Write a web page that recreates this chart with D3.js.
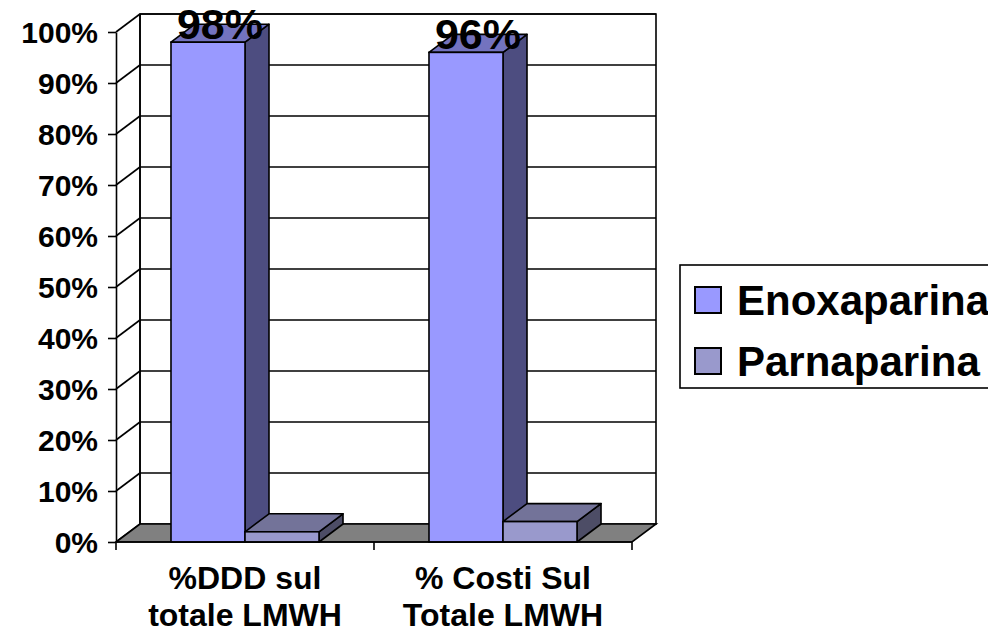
<!DOCTYPE html>
<html>
<head>
<meta charset="utf-8">
<script src="https://cdn.jsdelivr.net/npm/d3@7"></script>
<style>
  html, body { margin: 0; padding: 0; background: #fff; }
  svg { display: block; }
  text { font-family: "Liberation Sans", Arial, sans-serif; font-weight: bold; fill: #000; }
</style>
</head>
<body>
<svg id="chart" width="988" height="636"></svg>
<script>
// Categories (two-line labels), series and values
const categories = [["%DDD sul", "totale LMWH"], ["% Costi Sul", "Totale LMWH"]];
const seriesNames = ["Enoxaparina", "Parnaparina"];
const enoxaparina = [98, 96];
const parnaparina = [2, 4];
const yTicks = [0, 10, 20, 30, 40, 50, 60, 70, 80, 90, 100];

const seriesValues = [enoxaparina, parnaparina];
const faceColors = [
  { front: "#9999FF", top: "#7373BF", side: "#4D4D80" },
  { front: "#9999CC", top: "#737399", side: "#4D4D66" }
];

const svg = d3.select("#chart");

// Plot geometry: front plane plus a depth offset for the 3D walls
const plotLeft = 116, plotRight = 632, plotBottom = 542, plotTop = 32;
const dx = 24, dy = -18;

const catIdx = categories.map((d, i) => i);
const x = d3.scaleBand().domain(catIdx).range([plotLeft, plotRight]).padding(0);
const inner = d3.scaleBand().domain(seriesNames).range([0, x.bandwidth()])
  .paddingInner(0).paddingOuter(0.743);
const y = d3.scaleLinear().domain([0, 100]).range([plotBottom, plotTop]);

const stroke = "#000", sw = 1.6;
const pts = a => a.map(p => p.join(",")).join(" ");

// Back wall
const g = svg.append("g");
g.append("polygon")
  .attr("points", pts([[plotLeft + dx, y(0) + dy], [plotRight + dx, y(0) + dy], [plotRight + dx, y(100) + dy], [plotLeft + dx, y(100) + dy]]))
  .attr("fill", "#fff").attr("stroke", stroke).attr("stroke-width", sw);

// Gridlines on back wall and slanted on the side wall
g.selectAll(".grid").data(yTicks.slice(1)).join("line")
  .attr("x1", plotLeft + dx).attr("x2", plotRight + dx)
  .attr("y1", d => y(d) + dy).attr("y2", d => y(d) + dy)
  .attr("stroke", stroke).attr("stroke-width", sw);
g.selectAll(".slant").data(yTicks).join("line")
  .attr("x1", plotLeft).attr("x2", plotLeft + dx)
  .attr("y1", d => y(d)).attr("y2", d => y(d) + dy)
  .attr("stroke", stroke).attr("stroke-width", sw);
g.append("line")
  .attr("x1", plotLeft + dx).attr("x2", plotLeft + dx)
  .attr("y1", y(0) + dy).attr("y2", y(100) + dy)
  .attr("stroke", stroke).attr("stroke-width", sw);

// Floor
g.append("polygon")
  .attr("points", pts([[plotLeft, y(0)], [plotRight, y(0)], [plotRight + dx, y(0) + dy], [plotLeft + dx, y(0) + dy]]))
  .attr("fill", "#808080").attr("stroke", stroke).attr("stroke-width", sw);

// Bars (front, top, side faces)
const bars = svg.append("g");
catIdx.forEach(ci => {
  seriesNames.forEach((s, si) => {
    const v = seriesValues[si][ci];
    const x0 = x(ci) + inner(s), x1 = x0 + inner.bandwidth();
    const y0 = y(0), y1 = y(v);
    const c = faceColors[si];
    const bg = bars.append("g");
    bg.append("polygon")
      .attr("points", pts([[x1, y0], [x1 + dx, y0 + dy], [x1 + dx, y1 + dy], [x1, y1]]))
      .attr("fill", c.side).attr("stroke", stroke).attr("stroke-width", sw).attr("stroke-linejoin", "round");
    bg.append("polygon")
      .attr("points", pts([[x0, y1], [x1, y1], [x1 + dx, y1 + dy], [x0 + dx, y1 + dy]]))
      .attr("fill", c.top).attr("stroke", stroke).attr("stroke-width", sw).attr("stroke-linejoin", "round");
    bg.append("rect")
      .attr("x", x0).attr("y", y1).attr("width", x1 - x0).attr("height", y0 - y1)
      .attr("fill", c.front).attr("stroke", stroke).attr("stroke-width", sw);
  });
});

// Value labels on the Enoxaparina bars
svg.append("g").selectAll("text").data(catIdx).join("text")
  .attr("x", ci => x(ci) + inner(seriesNames[0]) + inner.bandwidth() / 2 + dx / 2)
  .attr("y", ci => y(enoxaparina[ci]) - 3)
  .attr("text-anchor", "middle")
  .style("font-size", "43px")
  .text(ci => enoxaparina[ci] + "%");

// Y axis
const yAxis = d3.axisLeft(y).tickValues(yTicks).tickFormat(d => d + "%")
  .tickSize(8).tickSizeOuter(0).tickPadding(10);
const ya = svg.append("g").attr("transform", `translate(${plotLeft},0)`).call(yAxis);
ya.select(".domain").attr("stroke", stroke).attr("stroke-width", sw);
ya.selectAll(".tick line").attr("stroke", stroke).attr("stroke-width", sw);
ya.selectAll(".tick text")
  .style("font-family", '"Liberation Sans", Arial, sans-serif')
  .style("font-weight", "bold").style("font-size", "30px")
  .attr("dy", "0.34em").attr("fill", "#000");

// X axis: front edge with ticks at category boundaries
const xa = svg.append("g");
xa.append("line").attr("x1", plotLeft).attr("x2", plotRight).attr("y1", plotBottom).attr("y2", plotBottom)
  .attr("stroke", stroke).attr("stroke-width", sw);
const bounds = catIdx.map(ci => x(ci)).concat([plotRight]);
xa.selectAll(".xt").data(bounds).join("line")
  .attr("x1", d => d).attr("x2", d => d).attr("y1", plotBottom).attr("y2", plotBottom + 8)
  .attr("stroke", stroke).attr("stroke-width", sw);
const xl = xa.selectAll(".xl").data(catIdx).join("text")
  .attr("text-anchor", "middle")
  .style("font-size", "32px");
xl.each(function (ci) {
  const t = d3.select(this);
  categories[ci].forEach((line, li) => {
    t.append("tspan").attr("x", x(ci) + x.bandwidth() / 2).attr("y", 589 + li * 37).text(line);
  });
});

// Legend
const lg = svg.append("g");
lg.append("rect").attr("x", 680).attr("y", 265).attr("width", 330).attr("height", 123)
  .attr("fill", "#fff").attr("stroke", stroke).attr("stroke-width", sw);
const li = lg.selectAll(".li").data(seriesNames).join("g")
  .attr("transform", (d, i) => `translate(0,${i * 61})`);
li.append("rect").attr("x", 695).attr("y", 287).attr("width", 26).attr("height", 26)
  .attr("fill", (d, i) => faceColors[i].front).attr("stroke", stroke).attr("stroke-width", 2);
li.append("text").attr("x", 737).attr("y", 315).style("font-size", "42px").text(d => d);
</script>
</body>
</html>
